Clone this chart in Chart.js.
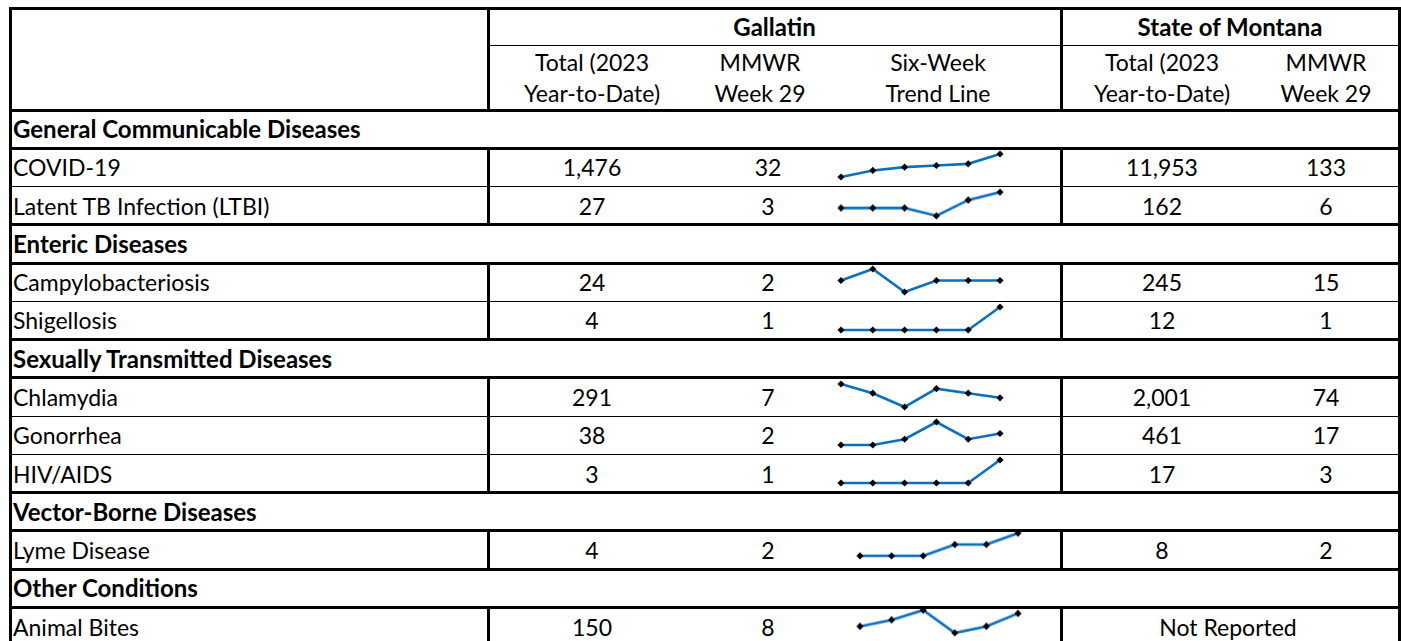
<!DOCTYPE html>
<html><head><meta charset="utf-8">
<script src="https://cdn.jsdelivr.net/npm/chart.js@4.4.0/dist/chart.umd.min.js"></script>
<style>
html,body{margin:0;padding:0;background:#fff;width:1401px;height:641px;overflow:hidden;font-family:Lato,"Open Sans",sans-serif;color:#000;}
#root{position:relative;width:1401px;height:641px;}
.ln{position:absolute;background:#000;}
.t{position:absolute;white-space:nowrap;font-size:23px;line-height:26px;height:26px;}
.c{transform:translateX(-50%);}
.b{font-weight:bold;font-size:24px;}
.sp{position:absolute;}
</style></head><body><div id="root"></div>
<script>
// ---------- data ----------
const sectionNames = ["General Communicable Diseases","Enteric Diseases","Sexually Transmitted Diseases","Vector-Borne Diseases","Other Conditions"];
const diseases = ["COVID-19","Latent TB Infection (LTBI)","Campylobacteriosis","Shigellosis","Chlamydia","Gonorrhea","HIV/AIDS","Lyme Disease","Animal Bites"];
const diseaseSection = [0,0,1,1,2,2,2,3,4];
const gallatinYTD = ["1,476","27","24","4","291","38","3","4","150"];
const gallatinWeek29 = ["32","3","2","1","7","2","1","2","8"];
const montanaYTD = ["11,953","162","245","12","2,001","461","17","8",null];
const montanaWeek29 = ["133","6","15","1","74","17","3","2",null];
const notReported = "Not Reported";
const weekLabels = ["Week 24","Week 25","Week 26","Week 27","Week 28","Week 29"];
const trendCovid = [18,22,24,25,26,32];
const trendLTBI = [1,1,1,0,2,3];
const trendCampylo = [2,3,1,2,2,2];
const trendShigellosis = [0,0,0,0,0,1];
const trendChlamydia = [10,8,5,9,8,7];
const trendGonorrhea = [0,0,1,4,1,2];
const trendHIV = [0,0,0,0,0,1];
const trendLyme = [0,0,0,1,1,2];
const trendAnimalBites = [4,6,9,2,4,8];
const trends = [trendCovid,trendLTBI,trendCampylo,trendShigellosis,trendChlamydia,trendGonorrhea,trendHIV,trendLyme,trendAnimalBites];

// ---------- layout ----------
const root = document.getElementById('root');
const L = 10, R = 1399, V1 = 488, V2 = 1061;
const TOP = 8, H1 = 45.5, HB = 110, PITCH = 38.27;
function hline(y, x1, x2, th){const d=document.createElement('div');d.className='ln';d.style.left=x1+'px';d.style.width=(x2-x1)+'px';d.style.top=(y-th/2)+'px';d.style.height=th+'px';root.appendChild(d);}
function vline(x, y1, y2, th){const d=document.createElement('div');d.className='ln';d.style.left=(x-th/2)+'px';d.style.width=th+'px';d.style.top=y1+'px';d.style.height=(y2-y1)+'px';root.appendChild(d);}
function text(s, x, yc, center, bold){const d=document.createElement('div');d.className='t'+(center?' c':'')+(bold?' b':'');d.textContent=s;d.style.left=x+'px';d.style.top=(yc-13)+'px';root.appendChild(d);}

const TH = 3, TN = 1.3;
const rows = [];
let prevSec = -1;
diseases.forEach((d,i)=>{ if(diseaseSection[i]!==prevSec){rows.push({type:'sec',idx:diseaseSection[i]});prevSec=diseaseSection[i];} rows.push({type:'data',idx:i}); });

// header
hline(TOP, L-1.5, R+1.5, TH);
hline(H1, V1, R, TN);
hline(HB, L-1.5, R+1.5, TH);
vline(V1, TOP, HB, TH); vline(V2, TOP, HB, TH);
text("Gallatin", (V1+V2)/2, 27, true, true);
text("State of Montana", (V2+R)/2, 27, true, true);
const hdrCols = [[592,"Total (2023","Year-to-Date)"],[760,"MMWR","Week 29"],[938,"Six-Week","Trend Line"],[1162,"Total (2023","Year-to-Date)"],[1326,"MMWR","Week 29"]];
hdrCols.forEach(c=>{text(c[1],c[0],62,true,false);text(c[2],c[0],93,true,false);});

const sparkJobs = [];
rows.forEach((r,k)=>{
  const y0 = HB + k*PITCH, y1 = y0 + PITCH, yc = (y0+y1)/2;
  const next = rows[k+1];
  const thick = r.type==='sec' || !next || next.type==='sec';
  hline(y1, L-1.5, R+1.5, thick?TH:TN);
  if(r.type==='sec'){ text(sectionNames[r.idx], 13, yc, false, true); }
  else {
    const i = r.idx;
    vline(V1, y0, y1, TH); vline(V2, y0, y1, TH);
    text(diseases[i], 13, yc, false, false);
    text(gallatinYTD[i], 592, yc, true, false);
    text(gallatinWeek29[i], 768, yc, true, false);
    if(montanaYTD[i]===null){ text(notReported, 1228, yc, true, false); }
    else { text(montanaYTD[i], 1162, yc, true, false); text(montanaWeek29[i], 1326, yc, true, false); }
    sparkJobs.push({i, y0});
  }
});
vline(L, TOP-1.5, 641, TH); vline(R, TOP-1.5, 641, TH);

// sparklines
sparkJobs.forEach(job=>{
  const shifted = job.i>=7;
  const px1 = shifted?860:841, px2 = shifted?1018:1000;
  const pt = job.y0 + (shifted?2.5:5.8), pb = job.y0 + (shifted?25:29);
  const padL=6,padR=6,padT=5,padB=5;
  const cv=document.createElement('canvas');
  cv.className='sp';
  const w=px2-px1+padL+padR, h=pb-pt+padT+padB;
  cv.style.left=(px1-padL)+'px'; cv.style.top=(pt-padT)+'px';
  cv.style.width=w+'px'; cv.style.height=h+'px'; cv.width=w; cv.height=h;
  root.appendChild(cv);
  const data = trends[job.i];
  new Chart(cv,{type:'line',
    data:{labels:weekLabels,datasets:[{data:data,borderColor:'#0a70c4',borderWidth:2.6,pointStyle:'rectRot',pointRadius:3.6,pointBackgroundColor:'#000',pointBorderColor:'#000',pointBorderWidth:0,tension:0,clip:false}]},
    options:{responsive:false,animation:false,events:[],layout:{padding:{left:padL,right:padR,top:padT,bottom:padB}},
      plugins:{legend:{display:false},tooltip:{enabled:false}},
      scales:{x:{display:false,offset:false},y:{display:false,min:Math.min(...data),max:Math.max(...data)}}}});
});
</script></body></html>
